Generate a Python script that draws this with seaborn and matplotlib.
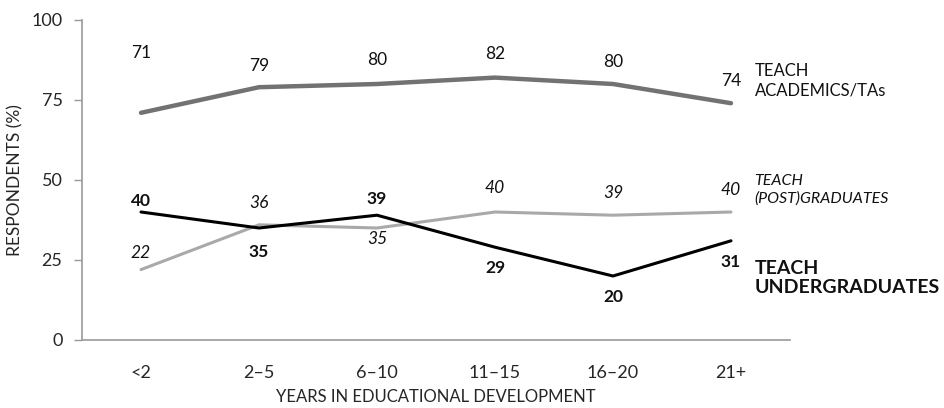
import matplotlib
matplotlib.use("Agg")
import matplotlib.pyplot as plt
import seaborn as sns
import pandas as pd

# Categories and series values
categories = ["<2", "2\u20135", "6\u201310", "11\u201315", "16\u201320", "21+"]
academics = [71, 79, 80, 82, 80, 74]
postgraduates = [22, 36, 35, 40, 39, 40]
undergraduates = [40, 35, 39, 29, 20, 31]
yticks = [0, 25, 50, 75, 100]

# Vertical offsets (points) of the value labels relative to each point
academics_off = [43, 15, 17, 17, 16, 16]
postgrad_off = [12, 16, -8, 17, 16, 16]
undergrad_off = [8, -17, 12, -15, -15, -15]

sns.set_theme(style="white")
plt.rcParams["font.family"] = ["Lato", "DejaVu Sans"]

rows = []
for name, vals in [("academics", academics), ("postgraduates", postgraduates),
                   ("undergraduates", undergraduates)]:
    for i, v in enumerate(vals):
        rows.append({"series": name, "x": i, "value": v})
df = pd.DataFrame(rows)

fig = plt.figure(figsize=(9.44, 4.08), dpi=100)
ax = fig.add_axes([82 / 944, 68 / 408, 708 / 944, 320 / 408])

styles = {
    "academics": dict(color="#727272", lw=3.2),
    "postgraduates": dict(color="#a9a9a9", lw=2.2),
    "undergraduates": dict(color="#000000", lw=2.2),
}
for name, st in styles.items():
    sns.lineplot(data=df[df.series == name], x="x", y="value", ax=ax,
                 color=st["color"], linewidth=st["lw"], legend=False)

fs = 12.5
for i, (v, o) in enumerate(zip(academics, academics_off)):
    ax.annotate(str(v), (i, v), xytext=(0, o), textcoords="offset points",
                ha="center", va="center", fontsize=fs, color="#111111")
for i, (v, o) in enumerate(zip(postgraduates, postgrad_off)):
    ax.annotate(str(v), (i, v), xytext=(0, o), textcoords="offset points",
                ha="center", va="center", fontsize=fs, style="italic", color="#111111")
for i, (v, o) in enumerate(zip(undergraduates, undergrad_off)):
    ax.annotate(str(v), (i, v), xytext=(0, o), textcoords="offset points",
                ha="center", va="center", fontsize=fs, fontweight="bold", color="#111111")

# Series names at the right end
tr = ax.get_yaxis_transform()
lx = 0.95
ax.text(lx, 81, "TEACH\nACADEMICS/TAs", transform=tr,
        ha="left", va="center", fontsize=12, linespacing=1.3, color="#111111")
ax.text(lx, 47, "TEACH\n(POST)GRADUATES", transform=tr,
        ha="left", va="center", fontsize=11.5, style="italic", linespacing=1.3, color="#111111")
ax.text(lx, 19.5, "TEACH\nUNDERGRADUATES", transform=tr,
        ha="left", va="center", fontsize=14, fontweight="bold", linespacing=1.15, color="#111111")

ax.set_xlim(-0.5, 5.5)
ax.set_ylim(0, 100)
ax.set_xticks(range(len(categories)))
ax.set_xticklabels(categories)
ax.set_yticks(yticks)
ax.set_yticklabels([str(t) for t in yticks])
ax.tick_params(axis="x", length=0, pad=18, labelsize=13)
ax.tick_params(axis="y", length=6, width=1, color="#999999", direction="out",
               pad=8, labelsize=13, left=True)
ax.set_xlabel("YEARS IN EDUCATIONAL DEVELOPMENT", fontsize=12, labelpad=6)
ax.set_ylabel("RESPONDENTS (%)", fontsize=12.5, labelpad=6)

for side in ["top", "right"]:
    ax.spines[side].set_visible(False)
for side in ["left", "bottom"]:
    ax.spines[side].set_color("#999999")
    ax.spines[side].set_linewidth(1.2)
ax.patch.set_alpha(0)

fig.savefig("out.png", dpi=100)
